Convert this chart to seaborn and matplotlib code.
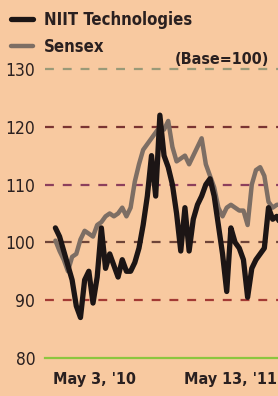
import pandas as pd
import matplotlib.pyplot as plt
import seaborn as sns

# weekly closes, rebased to 100
weeks = pd.date_range("2010-05-07", periods=55, freq="7D")
niit = [102.5, 101, 98.5, 96, 93.5, 89, 87, 93.5, 95, 89.5,
        94, 102.5, 95.5, 98, 96, 94, 97, 95, 95, 96.5,
        99, 103, 108, 115, 108, 122, 115, 113, 110, 105,
        98.5, 106, 98.5, 104, 106.5, 108, 110, 111, 108, 103,
        98, 91.5, 102.5, 100, 99, 97, 90.5, 95.5, 97, 98,
        99, 106, 104, 104.5, 103]
sensex = [100.3, 98.5, 97, 95, 97.5, 98, 100.5, 102, 101.5, 101,
          103, 103.5, 104.5, 105, 104.5, 105, 106, 104.5, 106, 110.5,
          113.5, 116, 117, 118, 119, 120, 119.5, 121, 116.5, 114,
          114.5, 115, 113.5, 115, 116.5, 118, 113.5, 111.5, 109.5, 106,
          104.5, 106, 106.5, 106, 105.5, 105.5, 103, 110, 112.5, 113,
          111.5, 107, 106, 106.5, 106.5]
series_names = ["NIIT Technologies", "Sensex"]
grid_levels = [90, 100, 110, 120, 130]
grid_colors = ["#a33a34", "#6e4438", "#8c3f5c", "#7a3432", "#9a9a78"]
tick_dates = ["2010-05-03", "2011-05-13"]
tick_labels = ["May 3, '10", "May 13, '11"]

bg = "#f8c9a0"
sns.set_style("white")
plt.rcParams['font.family'] = ['DejaVu Sans']
plt.rcParams['font.stretch'] = 'condensed'

df = pd.DataFrame({
    "date": list(weeks) * 2,
    "value": niit + sensex,
    "series": [series_names[0]] * len(niit) + [series_names[1]] * len(sensex),
})

fig = plt.figure(figsize=(2.78, 3.96), dpi=100, facecolor=bg)
ax = fig.add_axes([45 / 278, 38 / 396, 245 / 278, 292 / 396])
ax.set_facecolor(bg)

# dashed reference lines
for lvl, c in zip(grid_levels, grid_colors):
    ax.axhline(lvl, color=c, lw=1.6, ls=(0, (4, 4)), zorder=1)

sns.lineplot(data=df, x="date", y="value", hue="series",
             hue_order=series_names[::-1],
             palette={"NIIT Technologies": "#1c1515", "Sensex": "#7d6e64"},
             ax=ax, zorder=3)
for ln in ax.get_lines():
    if ln.get_color() == "#1c1515":
        ln.set_linewidth(3.8)
        ln.set_zorder(4)
    elif ln.get_color() == "#7d6e64":
        ln.set_linewidth(3.2)

ax.set_xlim(pd.Timestamp("2010-04-19 14:00"), pd.Timestamp("2011-06-04"))
ax.set_ylim(80, 130.5)
ax.set_yticks([80, 90, 100, 110, 120, 130])
ax.tick_params(axis="y", length=0, pad=7, labelsize=12.5, labelcolor="#2a2020")
ax.set_xticks([pd.Timestamp(d) for d in tick_dates])
ax.set_xticklabels(tick_labels, fontsize=11.5, fontweight="bold", color="#2a2020")
for lab, ha in zip(ax.get_xticklabels(), ["left", "right"]):
    lab.set_ha(ha)
ax.tick_params(axis="x", length=5, width=1, color="#555555", pad=5)
ax.set_xlabel("")
ax.set_ylabel("")
for side in ["top", "right", "left"]:
    ax.spines[side].set_visible(False)
ax.spines["bottom"].set_color("#8cc63f")
ax.spines["bottom"].set_linewidth(1.6)

# legend
handles, labels = ax.get_legend_handles_labels()
order = [labels.index(n) for n in series_names]
ax.legend([handles[i] for i in order], series_names, loc="upper left",
          bbox_to_anchor=(0.0, 1.0), bbox_transform=fig.transFigure,
          frameon=False, fontsize=12, handlelength=1.3, handletextpad=0.7,
          labelspacing=0.55, borderaxespad=0.25)
leg = ax.get_legend()
for t in leg.get_texts():
    t.set_fontweight("bold")
    t.set_color("#2a2020")
fig.text(175 / 278, 1 - 59 / 396, "(Base=100)", fontsize=11.5, fontweight="bold",
         color="#2a2020", va="center")

fig.savefig("out.png", dpi=100, facecolor=bg)
